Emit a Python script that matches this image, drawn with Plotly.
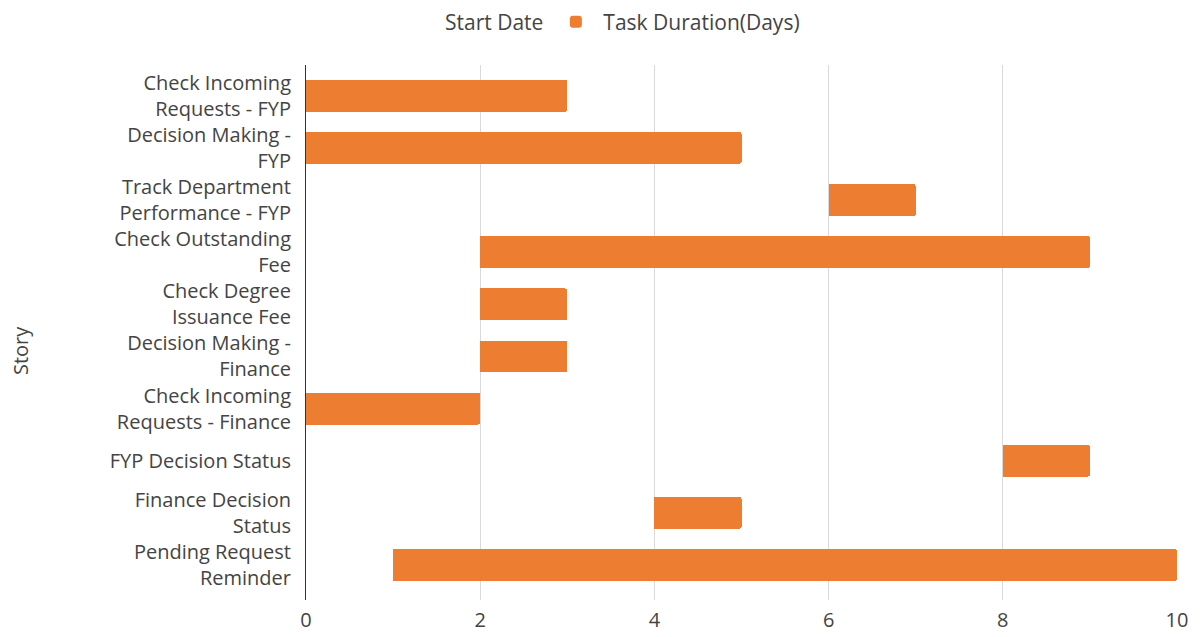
import plotly.graph_objects as go

stories = [
    "Check Incoming<br>Requests - FYP",
    "Decision Making -<br>FYP",
    "Track Department<br>Performance - FYP",
    "Check Outstanding<br>Fee",
    "Check Degree<br>Issuance Fee",
    "Decision Making -<br>Finance",
    "Check Incoming<br>Requests - Finance",
    "FYP Decision Status",
    "Finance Decision<br>Status",
    "Pending Request<br>Reminder",
]
start_date = [0, 0, 6, 2, 2, 2, 0, 8, 4, 1]
duration = [3, 5, 1, 7, 1, 1, 2, 1, 1, 9]
x_ticks = [0, 2, 4, 6, 8, 10]

FONT = "Open Sans"
TXT = "#444444"

fig = go.Figure()
fig.add_trace(go.Bar(
    y=stories, x=start_date, orientation="h", name="Start Date",
    marker=dict(color="rgba(0,0,0,0)", line=dict(width=0)),
    hoverinfo="skip",
))
fig.add_trace(go.Bar(
    y=stories, x=duration, orientation="h", name="Task Duration(Days)",
    marker=dict(color="#ED7D31", line=dict(width=0), cornerradius=2),
))

fig.update_layout(
    width=1203, height=637,
    barmode="stack", bargap=0.39,
    plot_bgcolor="white", paper_bgcolor="white",
    margin=dict(l=298, r=34, t=57, b=43),
    font=dict(family=FONT, size=20, color=TXT),
    legend=dict(orientation="h", xref="container", x=0.49, xanchor="center",
                yref="container", y=0.978, yanchor="middle",
                font=dict(size=21, color=TXT), traceorder="normal",
                itemwidth=45),
    xaxis=dict(range=[0, 10], tickvals=x_ticks, showgrid=True,
               gridcolor="#d9d9d9", gridwidth=1, zeroline=False,
               showline=False, ticks="", tickfont=dict(size=20, color=TXT),
               ticklabelstandoff=6),
    yaxis=dict(categoryorder="array", categoryarray=stories,
               range=[9.67, -0.59], showline=True, linecolor="#333333",
               linewidth=1, showgrid=False, ticks="",
               tickfont=dict(size=20, color=TXT), ticklabelstandoff=10),
    annotations=[dict(text="Story", xref="paper", yref="paper",
                      x=-0.328, y=0.466, textangle=-90, showarrow=False,
                      xanchor="center", yanchor="middle",
                      font=dict(size=20, color=TXT))],
)
fig.write_html("out.html")
